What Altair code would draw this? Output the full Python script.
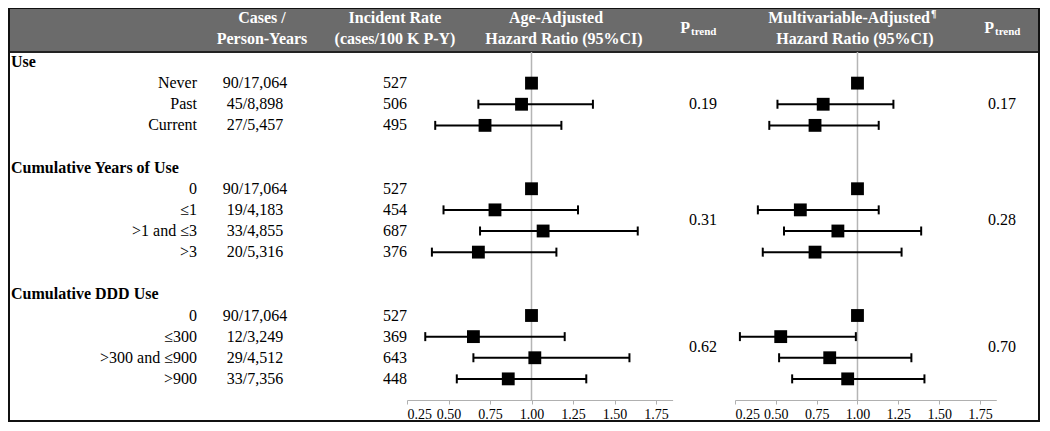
import altair as alt
import pandas as pd

FONT = "Liberation Serif"

# ---------------- data ----------------
groups = ["Use", "Cumulative Years of Use", "Cumulative DDD Use"]
levels = [["Never", "Past", "Current"],
          ["0", "≤1", ">1 and ≤3", ">3"],
          ["0", "≤300", ">300 and ≤900", ">900"]]
cases = [["90/17,064", "45/8,898", "27/5,457"],
         ["90/17,064", "19/4,183", "33/4,855", "20/5,316"],
         ["90/17,064", "12/3,249", "29/4,512", "33/7,356"]]
rates = [["527", "506", "495"],
         ["527", "454", "687", "376"],
         ["527", "369", "643", "448"]]
age_hr = [[1.00, 0.94, 0.72], [1.00, 0.78, 1.07, 0.68], [1.00, 0.65, 1.02, 0.86]]
age_lo = [[None, 0.68, 0.42], [None, 0.47, 0.69, 0.40], [None, 0.36, 0.65, 0.55]]
age_hi = [[None, 1.37, 1.18], [None, 1.28, 1.64, 1.15], [None, 1.20, 1.59, 1.33]]
mv_hr = [[1.00, 0.79, 0.74], [1.00, 0.65, 0.88, 0.74], [1.00, 0.53, 0.83, 0.94]]
mv_lo = [[None, 0.51, 0.46], [None, 0.39, 0.55, 0.42], [None, 0.28, 0.52, 0.60]]
mv_hi = [[None, 1.22, 1.13], [None, 1.13, 1.39, 1.27], [None, 0.99, 1.33, 1.41]]
p_age = ["0.19", "0.31", "0.62"]
p_mv = ["0.17", "0.28", "0.70"]
tick_values = [0.25, 0.50, 0.75, 1.00, 1.25, 1.50, 1.75]

hdr_cases = ["Cases /", "Person-Years"]
hdr_rate = ["Incident Rate", "(cases/100 K P-Y)"]
hdr_age = ["Age-Adjusted", "Hazard Ratio (95%CI)"]
hdr_mv = ["Multivariable-Adjusted", "Hazard Ratio (95%CI)"]
hdr_mark = "¶"
hdr_p = ["P", "trend"]

# ---------------- tables ----------------
heads, items, ptr = [], [], []
r = 0
for gi, g in enumerate(groups):
    heads.append({"row": r, "label": g})
    n = len(levels[gi])
    for j in range(n):
        items.append({
            "row": r + 1 + j, "level": levels[gi][j], "cases": cases[gi][j],
            "rate": rates[gi][j],
            "ahr": age_hr[gi][j], "alo": age_lo[gi][j], "ahi": age_hi[gi][j],
            "mhr": mv_hr[gi][j], "mlo": mv_lo[gi][j], "mhi": mv_hi[gi][j],
        })
    ptr.append({"row": r + 1 + (n - 1) / 2, "pa": p_age[gi], "pm": p_mv[gi]})
    r += n + 2

heads = pd.DataFrame(heads)
items = pd.DataFrame(items)
ptr = pd.DataFrame(ptr)

W, H, PB = 1032, 392, 22
Y = alt.Scale(domain=[0, 16], range=[54, 392])


def ytxt():
    return alt.Y("row:Q", scale=Y, axis=None)


def col_text(df, field, x, align, bold=False, size=16):
    return alt.Chart(df).mark_text(
        align=align, baseline="middle", font=FONT, fontSize=size,
        fontWeight="bold" if bold else "normal", color="black"
    ).encode(x=alt.value(x), y=ytxt(), text=f"{field}:N")


def static_text(s, x, y, align="center", size=16, bold=True, color="white"):
    return alt.Chart(pd.DataFrame({"t": [s]})).mark_text(
        align=align, baseline="middle", font=FONT, fontSize=size,
        fontWeight="bold" if bold else "normal", color=color
    ).encode(x=alt.value(x), y=alt.value(y), text="t:N")


# header band and frame
band = alt.Chart(pd.DataFrame({"a": [0]})).mark_rect(
    fill="#6b6b6b", stroke="#222222", strokeWidth=2
).encode(x=alt.value(1), x2=alt.value(W - 1), y=alt.value(0), y2=alt.value(44))
frame = alt.Chart(pd.DataFrame({"a": [0]})).mark_rect(
    fill=None, stroke="#111111", strokeWidth=2
).encode(x=alt.value(1), x2=alt.value(W - 1), y=alt.value(0), y2=alt.value(H + PB - 1))

header = [
    static_text(hdr_cases[0], 254, 10), static_text(hdr_cases[1], 254, 31),
    static_text(hdr_rate[0], 387, 10), static_text(hdr_rate[1], 387, 31),
    static_text(hdr_age[0], 548, 10), static_text(hdr_age[1], 556, 31),
    static_text(hdr_mv[0], 922, 10, align="right"),
    static_text(hdr_mark, 923, 6, align="left", size=10),
    static_text(hdr_mv[1], 847, 31),
    static_text(hdr_p[0], 682, 20, align="right"),
    static_text(hdr_p[1], 683, 24, align="left", size=11),
    static_text(hdr_p[0], 986, 20, align="right"),
    static_text(hdr_p[1], 987, 24, align="left", size=11),
]

body = [
    col_text(heads, "label", 3, "left", bold=True),
    col_text(items, "level", 189, "right"),
    col_text(items, "cases", 247, "center"),
    col_text(items, "rate", 387, "center"),
    col_text(ptr, "pa", 695, "center"),
    col_text(ptr, "pm", 994, "center"),
]


def forest(hr, lo, hi, rng):
    xs = alt.Scale(domain=[0.25, 1.85], range=rng, nice=False, zero=False)
    ax = alt.Axis(
        values=tick_values, format=".2f", orient="bottom", grid=False,
        title=None, domainColor="#b0b0b0", tickColor="#b0b0b0", tickSize=4,
        labelFont=FONT, labelFontSize=14, labelColor="black",
        labelPadding=3, domainWidth=1.2)
    ci = items.dropna(subset=[lo])
    refl = alt.Chart(pd.DataFrame({"v": [1.0]})).mark_rule(
        color="#b5b5b5", strokeWidth=1.5
    ).encode(x=alt.X("v:Q", scale=xs, axis=ax), y=alt.value(44), y2=alt.value(H))
    bars = alt.Chart(ci).mark_rule(color="black", strokeWidth=2).encode(
        x=alt.X(f"{lo}:Q", scale=xs, axis=ax), x2=f"{hi}:Q", y=ytxt())
    cap_lo = alt.Chart(ci).mark_tick(
        orient="vertical", color="black", size=9, thickness=2, opacity=1
    ).encode(x=alt.X(f"{lo}:Q", scale=xs, axis=ax), y=ytxt())
    cap_hi = alt.Chart(ci).mark_tick(
        orient="vertical", color="black", size=9, thickness=2, opacity=1
    ).encode(x=alt.X(f"{hi}:Q", scale=xs, axis=ax), y=ytxt())
    pts = alt.Chart(items).mark_square(size=165, color="black", opacity=1).encode(
        x=alt.X(f"{hr}:Q", scale=xs, axis=ax), y=ytxt())
    return alt.layer(refl, bars, cap_lo, cap_hi, pts)


plot_age = forest("ahr", "alo", "ahi", [399, 664.6])
plot_mv = forest("mhr", "mlo", "mhi", [727, 988.3])

chart = alt.layer(
    band, *header, *body, plot_age, plot_mv, frame
).resolve_scale(x="independent").resolve_axis(x="independent").properties(
    width=W, height=H,
    autosize=alt.AutoSizeParams(type="none"),
    padding={"left": 0, "top": 0, "right": 0, "bottom": PB},
).configure(background="white").configure_view(stroke=None, strokeWidth=0)

chart.save("out.html", embed_options={"renderer": "svg", "actions": False})
